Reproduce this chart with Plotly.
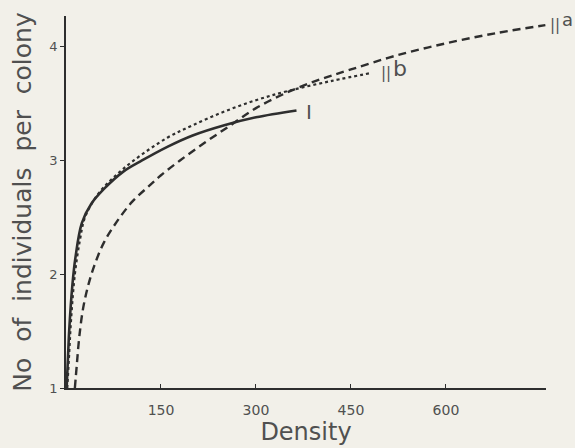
import plotly.graph_objects as go

# Curve I (solid)
dens_I = [1, 3, 5, 10, 15, 25, 40, 60, 90, 120, 160, 200, 250, 300, 364]
ind_I = [1.0, 1.25, 1.5, 1.9, 2.15, 2.45, 2.62, 2.75, 2.9, 3.0, 3.12, 3.22, 3.31, 3.38, 3.44]

# Curve b (dotted)
dens_b = [2, 5, 8, 14, 22, 30, 50, 75, 107, 160, 200, 250, 300, 350, 420, 483]
ind_b = [1.0, 1.3, 1.6, 2.0, 2.3, 2.5, 2.7, 2.85, 3.0, 3.2, 3.31, 3.43, 3.53, 3.61, 3.7, 3.77]

# Curve a (dashed)
dens_a = [14, 17, 21, 27, 35, 45, 60, 80, 105, 130, 150, 180, 220, 260, 300, 350, 400, 450, 520, 600, 680, 757]
ind_a = [1.0, 1.2, 1.45, 1.7, 1.9, 2.08, 2.28, 2.46, 2.64, 2.77, 2.87, 3.0, 3.16, 3.31, 3.46, 3.6, 3.71, 3.8, 3.92, 4.03, 4.12, 4.19]

x_ticks = [150, 300, 450, 600]
y_ticks = [1, 2, 3, 4]

ink = "#2e2e2e"
txt = "#505050"
bg = "#f2f0e9"
font_fam = "DejaVu Sans"

fig = go.Figure()
fig.add_trace(go.Scatter(x=dens_a, y=ind_a, mode="lines", line=dict(color=ink, width=2.4, dash="8px,5px", shape="spline", smoothing=1.0)))
fig.add_trace(go.Scatter(x=dens_b, y=ind_b, mode="lines", line=dict(color=ink, width=2.2, dash="dot", shape="spline")))
fig.add_trace(go.Scatter(x=dens_I, y=ind_I, mode="lines", line=dict(color=ink, width=2.6, shape="spline")))

def label(x, y, text, size, xref="x", yref="y"):
    fig.add_annotation(x=x, y=y, xref=xref, yref=yref, text=text, showarrow=False,
                       xanchor="left", yanchor="middle",
                       font=dict(family=font_fam, size=size, color=txt))

label(376, 3.43, "I", 20)
label(494, 3.77, "||", 15)
label(514, 3.81, "b", 22)
label(1.004, 0.975, "||", 15, "paper", "paper")
label(1.03, 0.99, "a", 18, "paper", "paper")

fig.update_layout(
    width=575, height=448,
    margin=dict(l=66, r=29, t=16, b=60),
    paper_bgcolor=bg, plot_bgcolor=bg,
    showlegend=False,
    font=dict(family=font_fam, color=txt),
    xaxis=dict(range=[0, 758], tickvals=x_ticks, ticks="inside", ticklen=4, tickcolor=ink,
               showline=True, linecolor=ink, linewidth=1.5, showgrid=False, zeroline=False,
               tickfont=dict(size=14, color=txt), ticklabelstandoff=8,
               title=dict(text="Density", font=dict(size=24, color=txt), standoff=2)),
    yaxis=dict(range=[1, 4.27], tickvals=y_ticks, ticks="outside", ticklen=4, tickcolor=ink,
               showline=True, linecolor=ink, linewidth=1.5, showgrid=False, zeroline=False,
               tickfont=dict(size=13, color=txt),
               title=dict(text="No  of  individuals  per  colony", font=dict(size=25, color=txt), standoff=11)),
)

fig.write_html("out.html")
